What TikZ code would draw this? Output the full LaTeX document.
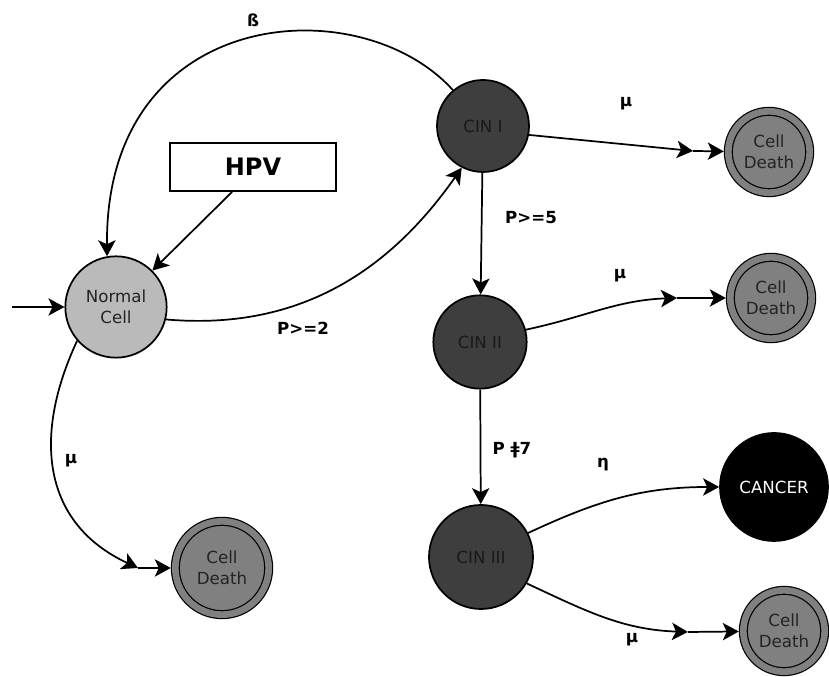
\documentclass[tikz,border=0pt]{standalone}
\usepackage{fontspec}
\setmainfont{DejaVu Sans}
\usetikzlibrary{arrows.meta,positioning}
\definecolor{normalgray}{RGB}{186,186,186}
\definecolor{cindark}{RGB}{62,62,62}
\definecolor{cintext}{RGB}{25,25,25}
\definecolor{deathgray}{RGB}{128,128,128}
\definecolor{celltext}{RGB}{35,35,35}

\begin{document}
\begin{tikzpicture}[x=0.75pt, y=0.75pt, every node/.style={font=\fontsize{12.5}{16}\selectfont},
				state/.style={circle, draw, line width=1.3pt, align=center, inner sep=0pt},
				death/.style={state, fill=deathgray, text=celltext, line width=0.9pt, double=deathgray, double distance=5pt, outer sep=3.4pt, minimum size=61pt},
				cin/.style={state, fill=cindark, text=cintext, minimum size=70pt},
				lbl/.style={font=\fontsize{12.5}{14}\selectfont\bfseries},
				arr/.style={-{Stealth[length=12pt, width=13pt, inset=3pt]}, line width=1.3pt}]
				\useasboundingbox (0,0) rectangle (829,677);
				\node[state, fill=normalgray, text=celltext, minimum size=76pt] (normal) at (116,370) {Normal\\ Cell};
				\node[draw, line width=1.3pt, minimum width=124pt, minimum height=36pt, font=\fontsize{18}{20}\selectfont\bfseries] (hpv) at (253,510) {HPV};
				\node[cin, minimum size=69pt] (cin1) at (483,551) {CIN I};
				\node[cin] (cin2) at (480,335) {CIN II};
				\node[cin, minimum size=78pt] (cin3) at (481,120) {CIN III};
				\node[state, fill=black, text=white, minimum size=81pt] (cancer) at (774,190) {CANCER};
				\node[death] (death1) at (769,525) {Cell\\ Death};
				\node[death] (death2) at (771,379) {Cell\\ Death};
				\node[death] (death3) at (784,46) {Cell\\ Death};
				\node[death, minimum size=70pt] (death4) at (222,109) {Cell\\ Death};
				\coordinate (start) at (12,370);
				\coordinate (m1) at (693,526);
				\coordinate (m2) at (677,379);
				\coordinate (m3) at (688,45);
				\coordinate (m4) at (138,109);
				\draw[arr] (start) -- (normal);
				\draw[arr] (hpv.-130) -- (normal.45);
				\draw[arr] (cin1.130) .. controls (360,690) and (105,672) .. (normal.100);
				\draw[arr] (normal.-14) to[out=-5, in=235] (cin1.243);
				\draw[arr] (cin1) -- (cin2);
				\draw[arr] (cin2) -- (cin3);
				\draw[arr] (cin1.-11) -- (m1);
				\draw[arr] (m1) -- (death1);
				\draw[arr] (cin2.15) to[out=12, in=182] (m2);
				\draw[arr] (m2) -- (death2);
				\draw[arr] (cin3.27) to[out=25, in=180] (cancer);
				\draw[arr] (cin3.-30) to[out=-25, in=178] (m3);
				\draw[arr] (m3) -- (death3);
				\draw[arr] (normal.221) to[out=245, in=155, looseness=1.15] (m4);
				\draw[arr] (m4) -- (death4);
				\node[lbl] (lbeta) at (253,657) {ß};
				\node[lbl] (lp2) at (303,349) {P>=2};
				\node[lbl] (lp5) at (531,459) {P>=5};
				\node[lbl] (lp7) at (512,227) {P ǂ7};
				\node[lbl] (lmu1) at (626,573) {μ};
				\node[lbl] (lmu2) at (620,401) {μ};
				\node[lbl] (leta) at (603,212) {η};
				\node[lbl] (lmu3) at (632,37) {μ};
				\node[lbl] (lmu4) at (71,216) {μ};
			\end{tikzpicture}
\end{document}
